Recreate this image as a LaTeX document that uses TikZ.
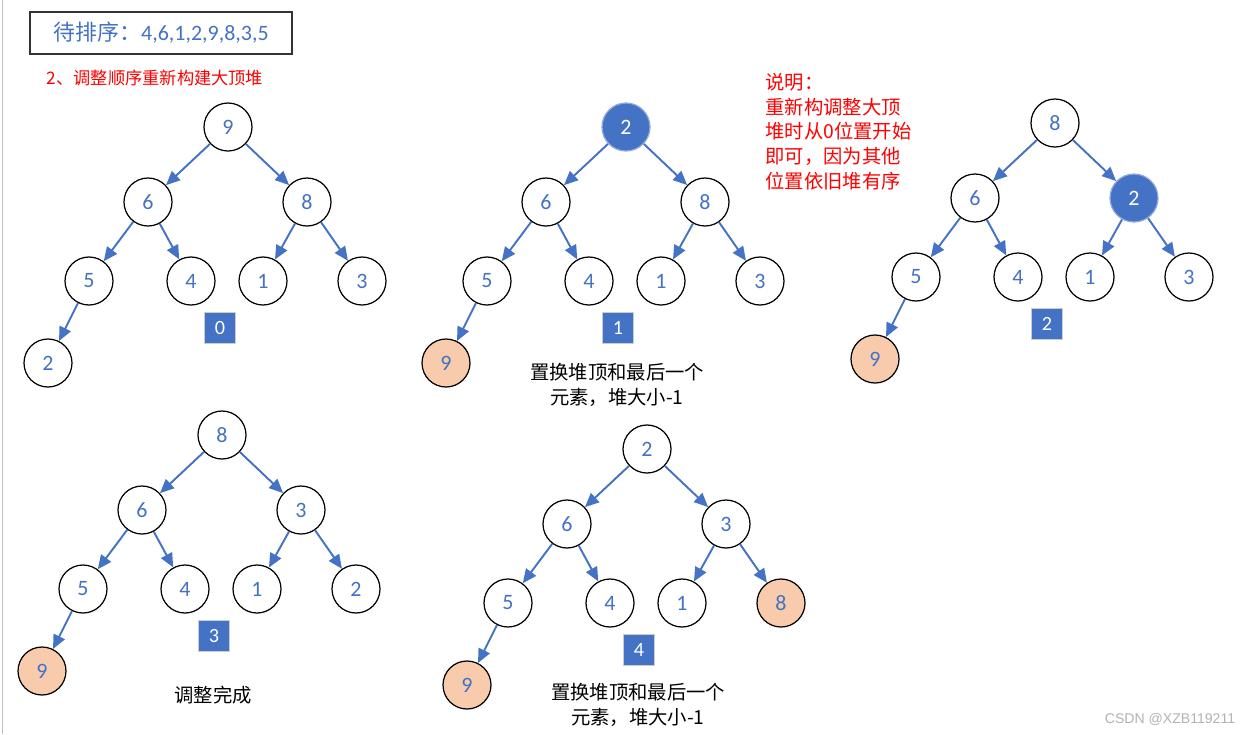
\documentclass[tikz,border=0pt]{standalone}
\usepackage{fontspec}
\setmainfont{Carlito}
\newfontfamily\cjk{Noto Sans CJK SC}
\newfontfamily\markfont{Liberation Sans}
\usetikzlibrary{arrows.meta}
\definecolor{heapblue}{HTML}{4472C4}
\definecolor{swapped}{HTML}{F8CBAD}
\begin{document}
\begin{tikzpicture}[
  nd/.style={circle, draw=black, line width=0.7pt, fill=white, minimum size=0.96cm,
    inner sep=0pt, text=heapblue, font=\fontsize{12.5}{14}\selectfont},
  hot/.style={fill=heapblue, draw=heapblue!60!white, text=white},
  done/.style={fill=swapped},
  idx/.style={rectangle, fill=heapblue, draw=gray!40, minimum size=0.62cm, inner sep=0pt,
    text=white, font=\fontsize{11.5}{13}\selectfont},
  edge/.style={heapblue, line width=1.1pt, -{Triangle[length=8pt,width=7pt]}},
  caption/.style={align=center, font=\cjk\fontsize{11}{14.2}\selectfont},
  % nodes that change colour in a step
  t1/.style=hot, b2/.style=hot, bb4/.style=done,
  aaa1/.style=done, aaa2/.style=done, aaa3/.style=done, aaa4/.style=done]
\useasboundingbox (0,0) rectangle (25.06,-14.68);
\draw[gray!50] (0.04,0) -- (0.04,-14.68);
\node[draw=gray!40!black, line width=1.2pt, minimum width=5.24cm, minimum height=0.84cm,
  text=heapblue, font=\fontsize{12.5}{14}\selectfont] (title) at (3.22,-0.66)
  {{\cjk 待排序：}4,6,1,2,9,8,3,5};
\node[text=red, font=\cjk\fontsize{9.8}{12}\selectfont] (step) at (3.1,-1.56)
  {2、调整顺序重新构建大顶堆};
\node[text=red, align=left, anchor=north west, inner sep=0pt,
  font=\cjk\fontsize{11}{14.2}\selectfont] (note) at (15.3,-1.45)
  {说明：\\重新构调整大顶\\堆时从0位置开始\\即可，因为其他\\位置依旧堆有序};
% one heap per step, same layout each time
\foreach \k/\x/\y/\vt/\va/\vb/\vaa/\vab/\vba/\vbb/\vaaa in {
  0/4.56/-2.54/9/6/8/5/4/1/3/2,
  1/12.52/-2.54/2/6/8/5/4/1/3/9,
  2/21.10/-2.46/8/6/2/5/4/1/3/9,
  3/4.44/-8.70/8/6/3/5/4/1/2/9,
  4/12.94/-8.98/2/6/3/5/4/1/8/9} {
\begin{scope}[shift={(\x,\y)}]
\node[nd, t\k/.try] (t\k) at (0,0) {\vt};
\node[nd, a\k/.try] (a\k) at (-1.6,-1.5) {\va};
\node[nd, b\k/.try] (b\k) at (1.58,-1.5) {\vb};
\node[nd, aa\k/.try] (aa\k) at (-2.78,-3.08) {\vaa};
\node[nd, ab\k/.try] (ab\k) at (-0.74,-3.08) {\vab};
\node[nd, ba\k/.try] (ba\k) at (0.7,-3.08) {\vba};
\node[nd, bb\k/.try] (bb\k) at (2.68,-3.08) {\vbb};
\node[nd, aaa\k/.try] (aaa\k) at (-3.6,-4.72) {\vaaa};
\node[idx] (n\k) at (-0.16,-4.02) {\k};
\end{scope}
\foreach \p/\c in {t/a,t/b,a/aa,a/ab,b/ba,b/bb,aa/aaa}
  \draw[edge] (\p\k) -- (\c\k);
}
\node[caption] (cap1) at (12.34,-7.69) {置换堆顶和最后一个\\元素，堆大小-1};
\node[caption] (cap3) at (4.26,-13.9) {调整完成};
\node[caption] (cap4) at (12.76,-14.1) {置换堆顶和最后一个\\元素，堆大小-1};
\node[text=gray!60, font=\markfont\fontsize{8}{10}\selectfont] (mark) at (23.4,-14.38)
  {CSDN @XZB119211};
\end{tikzpicture}
\end{document}
